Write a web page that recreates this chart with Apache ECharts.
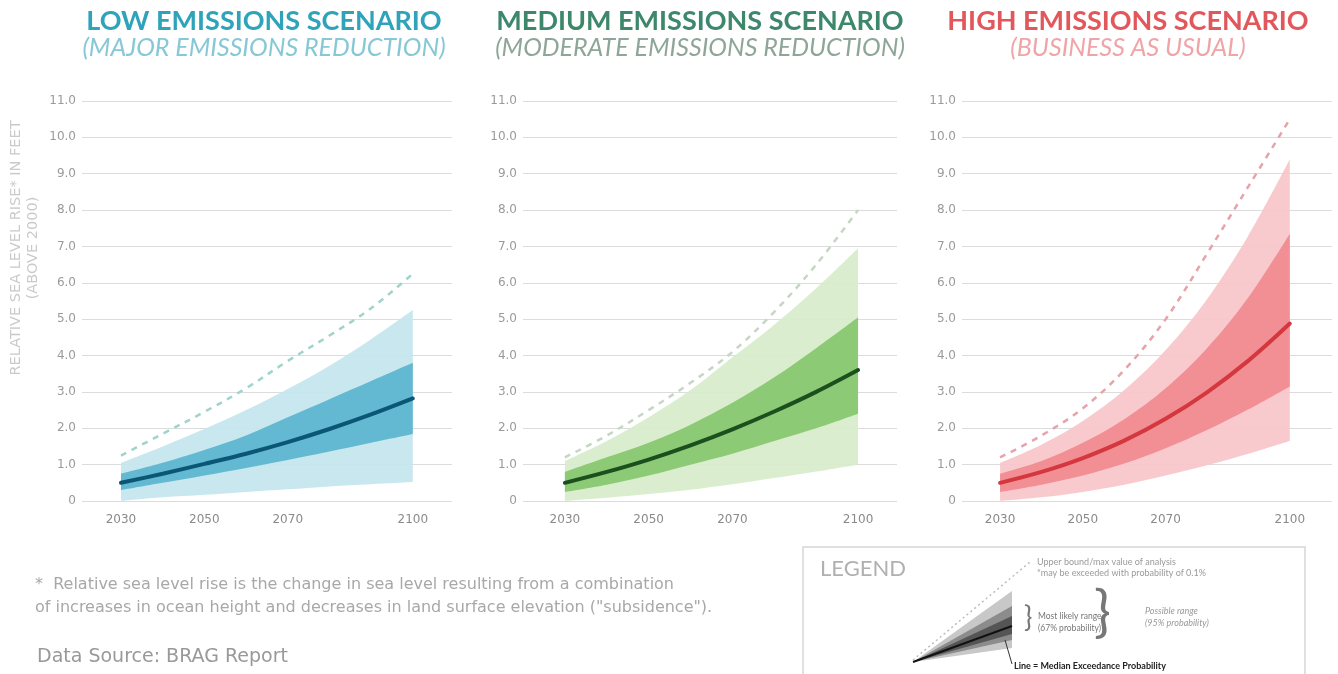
<!DOCTYPE html>
<html>
<head>
<meta charset="utf-8">
<script src="https://cdn.jsdelivr.net/npm/echarts@6/dist/echarts.min.js"></script>
<style>
  html, body { margin: 0; padding: 0; background: #fff; }
  #chart { width: 1338px; height: 674px; }
</style>
</head>
<body>
<div id="chart"></div>
<script>
// decade steps
const years = [2030, 2040, 2050, 2060, 2070, 2080, 2090, 2100]
const yearTicks = [2030, 2050, 2070, 2100]

// low emissions
const lowMedian = [0.5, 0.75, 1.02, 1.3, 1.62, 1.98, 2.38, 2.82]
const lowLikelyLow = [0.3, 0.5, 0.7, 0.91, 1.13, 1.36, 1.6, 1.84]
const lowLikelyHigh = [0.75, 1.05, 1.4, 1.8, 2.3, 2.8, 3.3, 3.8]
const lowPossibleLow = [0.0, 0.1, 0.17, 0.25, 0.32, 0.4, 0.46, 0.52]
const lowPossibleHigh = [1.05, 1.5, 1.98, 2.5, 3.08, 3.72, 4.45, 5.25]
const lowUpper = [1.25, 1.85, 2.45, 3.1, 3.85, 4.55, 5.3, 6.25]

// medium emissions
const medMedian = [0.5, 0.8, 1.14, 1.53, 1.97, 2.46, 3.0, 3.6]
const medLikelyLow = [0.25, 0.45, 0.7, 1.0, 1.3, 1.65, 2.0, 2.4]
const medLikelyHigh = [0.8, 1.2, 1.6, 2.1, 2.7, 3.4, 4.2, 5.05]
const medPossibleLow = [0.0, 0.09, 0.19, 0.31, 0.46, 0.63, 0.81, 1.0]
const medPossibleHigh = [1.1, 1.65, 2.3, 3.05, 3.95, 4.85, 5.85, 6.95]
const medUpper = [1.2, 1.8, 2.5, 3.25, 4.1, 5.2, 6.5, 8.0]

// high emissions
const highMedian = [0.5, 0.8, 1.18, 1.66, 2.26, 2.99, 3.86, 4.88]
const highLikelyLow = [0.25, 0.45, 0.7, 1.03, 1.45, 1.95, 2.52, 3.15]
const highLikelyHigh = [0.75, 1.1, 1.6, 2.25, 3.1, 4.2, 5.6, 7.35]
const highPossibleLow = [0.0, 0.1, 0.25, 0.45, 0.7, 0.98, 1.3, 1.65]
const highPossibleHigh = [1.05, 1.55, 2.2, 3.05, 4.15, 5.55, 7.3, 9.4]
const highUpper = [1.2, 1.8, 2.55, 3.6, 5.0, 6.8, 8.65, 10.5]

const panels = [
  {
    title: 'LOW EMISSIONS SCENARIO', sub: '(MAJOR EMISSIONS REDUCTION)',
    titleColor: '#2fa3ba', subColor: '#86c8d6', center: 259,
    left: 82, width: 370, min: 2020.65, max: 2109.4,
    light: '#c4e5ee', dark: '#5db6cf', line: '#0b5674', dash: '#9fd4cc',
    median: lowMedian, likelyLow: lowLikelyLow, likelyHigh: lowLikelyHigh,
    possibleLow: lowPossibleLow, possibleHigh: lowPossibleHigh, upper: lowUpper
  },
  {
    title: 'MEDIUM EMISSIONS SCENARIO', sub: '(MODERATE EMISSIONS REDUCTION)',
    titleColor: '#3d876d', subColor: '#8ea697', center: 695,
    left: 523, width: 374, min: 2020, max: 2109.3,
    light: '#d7edcb', dark: '#89c771', line: '#1c4f1e', dash: '#c6d6c4',
    median: medMedian, likelyLow: medLikelyLow, likelyHigh: medLikelyHigh,
    possibleLow: medPossibleLow, possibleHigh: medPossibleHigh, upper: medUpper
  },
  {
    title: 'HIGH EMISSIONS SCENARIO', sub: '(BUSINESS AS USUAL)',
    titleColor: '#e2575b', subColor: '#efa5a7', center: 1123,
    left: 962, width: 370, min: 2020.8, max: 2110.2,
    light: '#f8c6c9', dark: '#f08b90', line: '#d4383e', dash: '#e6a3aa',
    median: highMedian, likelyLow: highLikelyLow, likelyHigh: highLikelyHigh,
    possibleLow: highPossibleLow, possibleHigh: highPossibleHigh, upper: highUpper
  }
]

// value first so the stack runs along y, year second
const pairs = arr => years.map((y, i) => [arr[i], y])
const diff = (hi, lo) => years.map((y, i) => [+(hi[i] - lo[i]).toFixed(3), y])

const grid = []
const xAxis = []
const yAxis = []
const series = []
const title = []
const labelFont = 'DejaVu Sans'

panels.forEach((p, i) => {
  grid.push({ left: p.left, width: p.width, top: 101, height: 400 })
  xAxis.push({
    type: 'value', gridIndex: i, min: p.min, max: p.max,
    splitLine: { show: false }, axisLine: { show: false }, axisTick: { show: false },
    axisLabel: {
      customValues: yearTicks, color: '#8a8a8a', fontSize: 12,
      fontFamily: labelFont, margin: 13, formatter: v => String(v)
    }
  })
  yAxis.push({
    type: 'value', gridIndex: i, min: 0, max: 11, interval: 1,
    axisLine: { show: false }, axisTick: { show: false },
    splitLine: { lineStyle: { color: '#dcdcdc', width: 1 } },
    axisLabel: {
      color: '#9a9a9a', fontSize: 12, fontFamily: labelFont, margin: 6,
      formatter: v => (v === 0 ? '0' : v.toFixed(1))
    }
  })
  const common = {
    xAxisIndex: i, yAxisIndex: i, showSymbol: false, symbol: 'none',
    silent: true, smooth: 0.35, encode: { x: 1, y: 0 }
  }
  series.push(
    Object.assign({}, common, {
      type: 'line', stack: 'possible' + i, data: pairs(p.possibleLow),
      lineStyle: { width: 0, opacity: 0 }
    }),
    Object.assign({}, common, {
      type: 'line', stack: 'possible' + i, data: diff(p.possibleHigh, p.possibleLow),
      lineStyle: { width: 0, opacity: 0 },
      areaStyle: { color: p.light, opacity: 0.92 }
    }),
    Object.assign({}, common, {
      type: 'line', stack: 'likely' + i, data: pairs(p.likelyLow),
      lineStyle: { width: 0, opacity: 0 }
    }),
    Object.assign({}, common, {
      type: 'line', stack: 'likely' + i, data: diff(p.likelyHigh, p.likelyLow),
      lineStyle: { width: 0, opacity: 0 },
      areaStyle: { color: p.dark, opacity: 0.95 }
    }),
    Object.assign({}, common, {
      type: 'line', data: pairs(p.median),
      lineStyle: { color: p.line, width: 4, cap: 'round' }
    }),
    Object.assign({}, common, {
      type: 'line', data: pairs(p.upper),
      lineStyle: { color: p.dash, width: 2.5, type: [6, 6] }
    })
  )
  title.push(
    {
      text: p.title, left: p.center, top: 3, textAlign: 'center',
      textStyle: { color: p.titleColor, fontSize: 27, fontWeight: 'bold', fontFamily: 'Lato' }
    },
    {
      text: p.sub, left: p.center, top: 30, textAlign: 'center',
      textStyle: { color: p.subColor, fontSize: 25, fontWeight: 'normal', fontStyle: 'italic', fontFamily: 'Lato' }
    }
  )
})

const graphic = [
  // y axis name
  {
    type: 'text', x: 25, y: 248, rotation: Math.PI / 2,
    style: {
      text: 'RELATIVE SEA LEVEL RISE* IN FEET\n(ABOVE 2000)', align: 'center', verticalAlign: 'middle',
      fill: '#cacaca', font: '14.5px "DejaVu Sans"', lineHeight: 17
    }
  },
  // footnote
  {
    type: 'text', left: 35, top: 573,
    style: {
      text: '*  Relative sea level rise is the change in sea level resulting from a combination\nof increases in ocean height and decreases in land surface elevation ("subsidence").',
      fill: '#a8a8a8', font: '16px "DejaVu Sans"', lineHeight: 23
    }
  },
  {
    type: 'text', left: 37, top: 648,
    style: { text: 'Data Source: BRAG Report', fill: '#999', font: '19px "DejaVu Sans"' }
  },
  // legend box
  {
    type: 'rect', shape: { x: 803, y: 547, width: 502, height: 140 },
    style: { fill: '#fff', stroke: '#d6d6d6', lineWidth: 1.5 }
  },
  {
    type: 'text', left: 820, top: 558,
    style: { text: 'LEGEND', fill: '#b0b0b0', font: '22px Lato' }
  },
  {
    type: 'polygon', shape: { points: [[913, 662], [1012, 591], [1012, 648]] },
    style: { fill: '#c8c8c8' }
  },
  {
    type: 'polygon', shape: { points: [[913, 662], [1012, 606], [1012, 640]] },
    style: { fill: '#8c8c8c' }
  },
  {
    type: 'polygon', shape: { points: [[913, 662], [1012, 616], [1012, 634]] },
    style: { fill: '#555' }
  },
  {
    type: 'line', shape: { x1: 913, y1: 662, x2: 1012, y2: 626 },
    style: { stroke: '#111', lineWidth: 2 }
  },
  {
    type: 'line', shape: { x1: 913, y1: 660, x2: 1030, y2: 562 },
    style: { stroke: '#bdbdbd', lineWidth: 1.5, lineDash: [2, 3] }
  },
  {
    type: 'line', shape: { x1: 1005, y1: 640, x2: 1012, y2: 664 },
    style: { stroke: '#333', lineWidth: 1 }
  },
  {
    type: 'text', left: 1037, top: 557,
    style: {
      text: 'Upper bound/max value of analysis\n*may be exceeded with probability of 0.1%',
      fill: '#9a9a9a', font: '9px Lato', lineHeight: 11
    }
  },
  {
    type: 'text', left: 1024, top: 604,
    style: { text: '}', fill: '#777', font: '28px Lato' }
  },
  {
    type: 'text', left: 1038, top: 610,
    style: { text: 'Most likely range\n(67% probability)', fill: '#777', font: '8.5px Lato', lineHeight: 12 }
  },
  {
    type: 'text', left: 1094, top: 585,
    style: { text: '}', fill: '#777', font: '56px Lato' }
  },
  {
    type: 'text', left: 1145, top: 605,
    style: { text: 'Possible range\n(95% probability)', fill: '#999', font: 'italic 9px Lato', lineHeight: 12 }
  },
  {
    type: 'text', left: 1014, top: 662,
    style: { text: 'Line = Median Exceedance Probability', fill: '#222', font: 'bold 9px Lato' }
  }
]

const chart = echarts.init(document.getElementById('chart'))
chart.setOption({
  backgroundColor: '#fff',
  animation: false,
  title,
  grid,
  xAxis,
  yAxis,
  series,
  graphic
})
</script>
</body>
</html>
